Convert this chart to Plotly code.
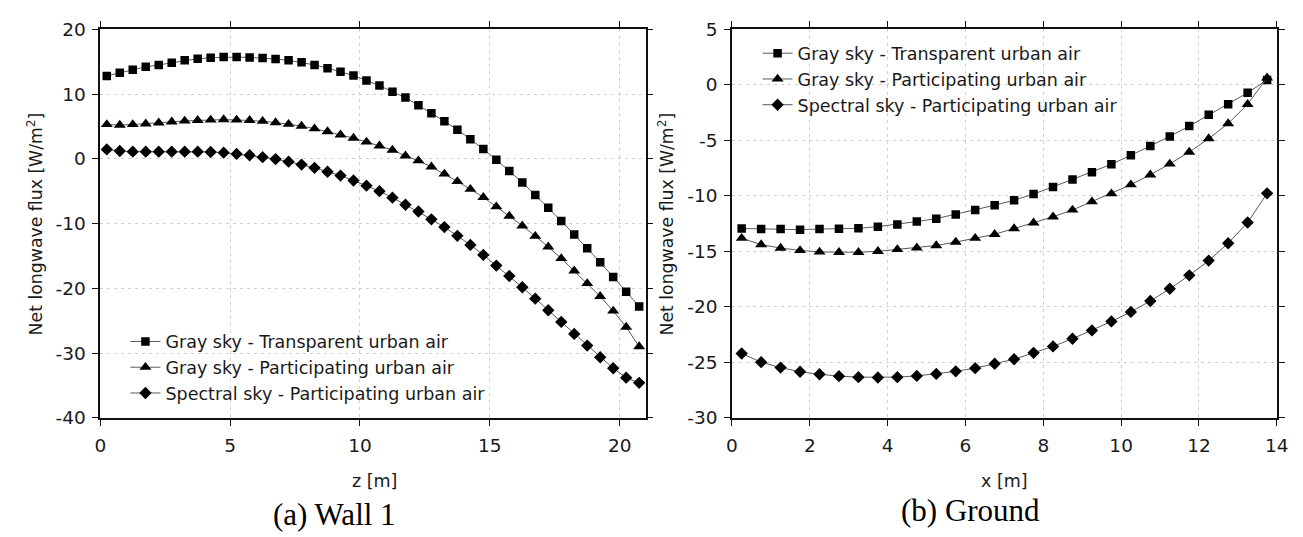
import plotly.graph_objects as go

# ---------------- data ----------------
z_wall = [0.25, 0.75, 1.25, 1.75, 2.25, 2.75, 3.25, 3.75, 4.25, 4.75, 5.25, 5.75, 6.25, 6.75,
          7.25, 7.75, 8.25, 8.75, 9.25, 9.75, 10.25, 10.75, 11.25, 11.75, 12.25, 12.75, 13.25,
          13.75, 14.25, 14.75, 15.25, 15.75, 16.25, 16.75, 17.25, 17.75, 18.25, 18.75, 19.25,
          19.75, 20.25, 20.75]
wall_gray_transparent = [12.8, 13.3, 13.75, 14.2, 14.5, 14.85, 15.2, 15.45, 15.6, 15.7, 15.7, 15.65,
                         15.55, 15.4, 15.2, 14.9, 14.5, 14.0, 13.45, 12.85, 12.1, 11.3, 10.35, 9.45,
                         8.25, 7.05, 5.8, 4.5, 3.0, 1.5, -0.15, -1.9, -3.65, -5.6, -7.55, -9.6,
                         -11.7, -13.8, -16.0, -18.25, -20.55, -22.8]
wall_gray_participating = [5.3, 5.2, 5.3, 5.4, 5.55, 5.7, 5.85, 5.95, 6.0, 6.05, 6.0, 5.95, 5.8, 5.6,
                           5.35, 5.05, 4.65, 4.2, 3.7, 3.2, 2.6, 2.0, 1.35, 0.45, -0.3, -1.25, -2.35,
                           -3.5, -4.7, -5.95, -7.4, -8.85, -10.35, -11.95, -13.6, -15.4, -17.3,
                           -19.25, -21.25, -23.5, -26.0, -29.0]
wall_spectral_participating = [1.45, 1.2, 1.1, 1.1, 1.1, 1.1, 1.1, 1.1, 1.05, 0.95, 0.75, 0.55, 0.25,
                               -0.05, -0.45, -0.9, -1.4, -2.0, -2.6, -3.35, -4.15, -5.0, -6.0, -7.1,
                               -8.15, -9.35, -10.55, -11.9, -13.3, -14.85, -16.5, -18.1, -19.85,
                               -21.6, -23.4, -25.2, -27.05, -28.85, -30.65, -32.35, -33.8, -34.6]

x_ground = [0.25, 0.75, 1.25, 1.75, 2.25, 2.75, 3.25, 3.75, 4.25, 4.75, 5.25, 5.75, 6.25, 6.75,
            7.25, 7.75, 8.25, 8.75, 9.25, 9.75, 10.25, 10.75, 11.25, 11.75, 12.25, 12.75, 13.25, 13.75]
ground_gray_transparent = [-12.95, -13.0, -13.0, -13.05, -13.0, -12.98, -12.93, -12.78, -12.58, -12.32,
                           -12.06, -11.68, -11.28, -10.85, -10.4, -9.84, -9.2, -8.54, -7.88, -7.16,
                           -6.35, -5.51, -4.65, -3.72, -2.71, -1.76, -0.72, 0.43]
ground_gray_participating = [-13.82, -14.4, -14.71, -14.92, -15.06, -15.09, -15.09, -15.0, -14.83,
                             -14.69, -14.48, -14.17, -13.82, -13.47, -12.95, -12.44, -11.89, -11.28,
                             -10.53, -9.81, -9.0, -8.11, -7.13, -6.06, -4.85, -3.49, -1.76, 0.63]
ground_spectral_participating = [-24.21, -24.99, -25.48, -25.85, -26.08, -26.25, -26.34, -26.37,
                                 -26.34, -26.23, -26.05, -25.82, -25.53, -25.13, -24.73, -24.15,
                                 -23.57, -22.88, -22.13, -21.32, -20.46, -19.48, -18.38, -17.17,
                                 -15.84, -14.28, -12.41, -9.78]

series_names = ["Gray sky - Transparent urban air",
                "Gray sky - Participating urban air",
                "Spectral sky - Participating urban air"]
wall_xticks = [0, 5, 10, 15, 20]
wall_xlabels = ["0", "5", "10", "15", "20"]
ground_xticks = [0, 2, 4, 6, 8, 10, 12, 14]
ground_xlabels = ["0", "2", "4", "6", "8", "10", "12", "14"]
wall_yticks = [20, 10, 0, -10, -20, -30, -40]
wall_ylabels = ["20", "10", "0", "-10", "-20", "-30", "-40"]
ground_yticks = [5, 0, -5, -10, -15, -20, -25, -30]
ground_ylabels = ["5", "0", "-5", "-10", "-15", "-20", "-25", "-30"]

# ---------------- styling ----------------
W, H = 1303, 537
FONT = "DejaVu Sans"
TXT = "#1a1a1a"
symbols = ["square", "triangle-up", "diamond"]
msizes = [8.5, 10.5, 9.5]

fig = go.Figure()

panels = [
    (z_wall, [wall_gray_transparent, wall_gray_participating, wall_spectral_participating], "x", "y", "legend"),
    (x_ground, [ground_gray_transparent, ground_gray_participating, ground_spectral_participating], "x2", "y2", "legend2"),
]
for xs, ys_list, xa, ya, lg in panels:
    for i, ys in enumerate(ys_list):
        fig.add_trace(go.Scatter(
            x=xs, y=ys, mode="lines+markers", name=series_names[i],
            xaxis=xa, yaxis=ya, legend=lg,
            line=dict(color="#5a5a5a", width=1),
            marker=dict(symbol=symbols[i], size=msizes[i], color="black", line=dict(width=0)),
        ))

def px_x(p):
    return p / W

def px_y(p):
    return 1 - p / H

ydom = [px_y(415), px_y(10.7)]

common_axis = dict(
    showline=True, linecolor="#111111", linewidth=1.6, mirror="allticks",
    ticks="outside", ticklen=6, tickwidth=1.2, tickcolor="#111111",
    showgrid=True, gridcolor="#d0d0d0", gridwidth=1, griddash="3px,4px",
    zeroline=False, tickfont=dict(family=FONT, size=18.5, color=TXT),
)

fig.update_layout(
    width=W, height=H, margin=dict(l=0, r=0, t=0, b=0),
    paper_bgcolor="white", plot_bgcolor="white",
    xaxis=dict(domain=[px_x(87.5), px_x(640.5)], range=[0, 21], tickvals=wall_xticks,
               ticktext=wall_xlabels, anchor="y", ticklabelstandoff=4, **common_axis),
    yaxis=dict(domain=ydom, range=[-40, 20], tickvals=wall_yticks, ticktext=wall_ylabels,
               anchor="x", ticklabelstandoff=3, **common_axis),
    xaxis2=dict(domain=[px_x(728), px_x(1280.5)], range=[0, 14], tickvals=ground_xticks,
                ticktext=ground_xlabels, anchor="y2", ticklabelstandoff=4, **common_axis),
    yaxis2=dict(domain=ydom, range=[-30, 5], tickvals=ground_yticks, ticktext=ground_ylabels,
                anchor="x2", ticklabelstandoff=3, **common_axis),
    legend=dict(x=px_x(113), y=px_y(317), xanchor="left", yanchor="top",
                bgcolor="rgba(0,0,0,0)", tracegroupgap=0,
                font=dict(family=FONT, size=17.5, color=TXT)),
    legend2=dict(x=px_x(754), y=px_y(17), xanchor="left", yanchor="top",
                 bgcolor="rgba(0,0,0,0)", tracegroupgap=0,
                 font=dict(family=FONT, size=17.5, color=TXT)),
)

ann = []
ytitle = "Net longwave flux [W/m<sup>2</sup>]"
for xc in (21, 661):
    ann.append(dict(text=ytitle, x=px_x(xc), y=px_y(213), xref="paper", yref="paper",
                    textangle=-90, showarrow=False, xanchor="center", yanchor="middle",
                    font=dict(family=FONT, size=17.3, color=TXT)))
ann.append(dict(text="z [m]", x=px_x(365.6), y=px_y(481), xref="paper", yref="paper",
                showarrow=False, xanchor="center", yanchor="middle",
                font=dict(family=FONT, size=17.5, color=TXT)))
ann.append(dict(text="x [m]", x=px_x(1004), y=px_y(481), xref="paper", yref="paper",
                showarrow=False, xanchor="center", yanchor="middle",
                font=dict(family=FONT, size=17.5, color=TXT)))
ann.append(dict(text="(a) Wall 1", x=px_x(325), y=px_y(516), xref="paper", yref="paper",
                showarrow=False, xanchor="center", yanchor="middle",
                font=dict(family="Liberation Serif", size=31, color="black")))
ann.append(dict(text="(b) Ground", x=px_x(970), y=px_y(511), xref="paper", yref="paper",
                showarrow=False, xanchor="center", yanchor="middle",
                font=dict(family="Liberation Serif", size=31, color="black")))
fig.update_layout(annotations=ann)

fig.write_html("out.html")
